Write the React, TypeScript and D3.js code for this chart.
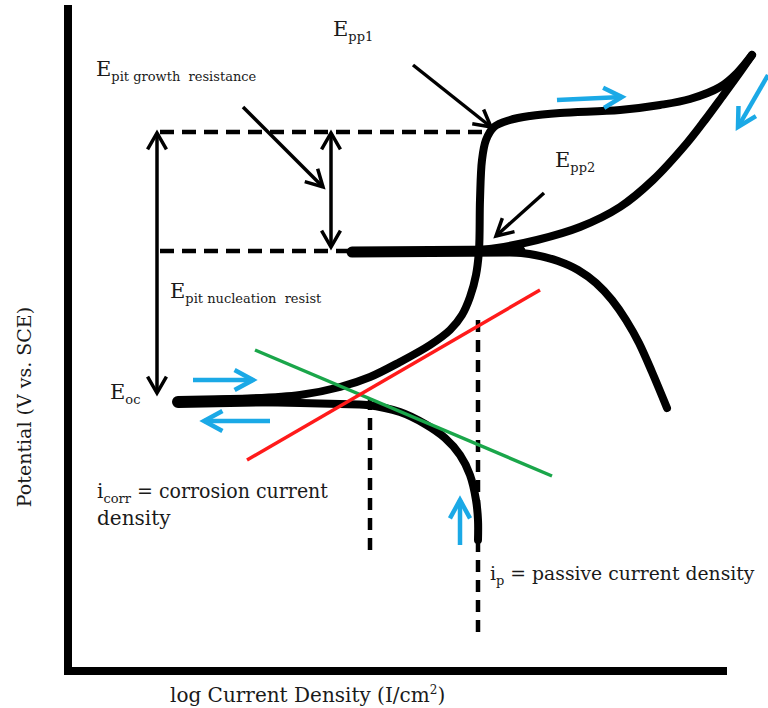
import React from "react";
import * as d3 from "d3";

const W = 768;
const H = 708;

// Domains: log current density (decades) and potential (V vs SCE)
const logIDomain: [number, number] = [-9, -2.41];
const potentialDomain: [number, number] = [-0.8, 0.534];

// Forward anodic scan (Eoc -> passive -> pitting -> vertex)
const anodicForward: [number, number][] = [
  [-7.9, -0.26], [-7.28, -0.256], [-6.68, -0.248], [-6.28, -0.232], [-5.98, -0.212],
  [-5.68, -0.182], [-5.38, -0.148], [-5.18, -0.118], [-5.06, -0.088], [-4.98, -0.052],
  [-4.92, -0.008], [-4.89, 0.042], [-4.88, 0.142], [-4.86, 0.222], [-4.82, 0.262],
  [-4.74, 0.288], [-4.58, 0.302], [-4.38, 0.31], [-4.08, 0.316], [-3.48, 0.322],
  [-3.08, 0.332], [-2.78, 0.344], [-2.48, 0.368], [-2.31, 0.396], [-2.16, 0.432],
];

// Reverse scan (vertex -> repassivation)
const reverseScan: [number, number][] = [
  [-2.16, 0.432], [-2.3, 0.392], [-2.46, 0.348], [-2.63, 0.302], [-2.81, 0.256],
  [-3.15, 0.182], [-3.48, 0.128], [-3.88, 0.088], [-4.31, 0.062], [-4.71, 0.046],
  [-4.98, 0.04],
];

// Protection potential plateau
const protectionPlateau: [number, number][] = [[-6.16, 0.038], [-4.48, 0.04]];

// Descending branch after repassivation
const descendingBranch: [number, number][] = [
  [-4.88, 0.04], [-4.58, 0.038], [-4.33, 0.032], [-4.1, 0.02], [-3.9, 0.002],
  [-3.72, -0.024], [-3.56, -0.058], [-3.42, -0.098], [-3.29, -0.144], [-3.16, -0.202],
  [-3.01, -0.274],
];

// Cathodic branch
const cathodicBranch: [number, number][] = [
  [-7.9, -0.26], [-7.18, -0.262], [-6.68, -0.264], [-6.28, -0.266], [-6.01, -0.268],
  [-5.68, -0.282], [-5.43, -0.306], [-5.23, -0.334], [-5.08, -0.368], [-4.98, -0.408],
  [-4.92, -0.458], [-4.9, -0.498], [-4.9, -0.538],
];

// Tafel extrapolation lines
const cathodicTafel: [number, number][] = [[-7.13, -0.158], [-4.16, -0.41]];
const anodicTafel: [number, number][] = [[-7.21, -0.378], [-4.28, -0.038]];

// Reference levels
const E_pp1 = 0.278;
const E_pp2 = 0.04;
const logI_corr = -5.98;
const logI_p = -4.9;

// Dashed guide lines [x1, y1, x2, y2]
const dashedGuides: [number, number, number, number][] = [
  [-8.08, E_pp1, -4.81, E_pp1],
  [-8.08, E_pp2, -6.16, E_pp2],
  [logI_corr, -0.254, logI_corr, -0.564],
  [logI_p, -0.098, logI_p, -0.728],
];

// Double-headed range arrows [x, yTop, yBottom]
const rangeArrows: [number, number, number][] = [
  [-8.11, 0.276, -0.244],
  [-6.37, 0.276, 0.048],
];

// Black pointer arrows [fromX, fromY, toX, toY]
const pointerArrows: [number, number, number, number][] = [
  [-7.25, 0.328, -6.45, 0.168],
  [-5.55, 0.412, -4.77, 0.288],
  [-4.24, 0.156, -4.72, 0.07],
];

// Blue scan-direction arrows [fromX, fromY, toX, toY]
const scanArrows: [number, number, number, number][] = [
  [-4.11, 0.342, -3.46, 0.348],
  [-2.0, 0.392, -2.3, 0.288],
  [-7.75, -0.218, -7.15, -0.218],
  [-6.98, -0.3, -7.64, -0.3],
  [-5.08, -0.548, -5.08, -0.458],
];

// Labels: main, subscript, rest, position (logI, E)
const labels: { main: string; sub: string; rest?: string; restLen?: number; size?: number; at: [number, number] }[] = [
  { main: "E", sub: "pp1", at: [-6.35, 0.47] },
  { main: "E", sub: "pit growth  resistance", at: [-8.72, 0.39] },
  { main: "E", sub: "pp2", at: [-4.13, 0.208] },
  { main: "E", sub: "pit nucleation  resist", at: [-7.98, -0.054] },
  { main: "E", sub: "oc", at: [-8.58, -0.256] },
  { main: "i", sub: "corr", rest: " = corrosion current", restLen: 197, size: 20, at: [-8.71, -0.454] },
  { main: "i", sub: "p", rest: " = passive current density", restLen: 250, size: 19, at: [-4.78, -0.618] },
];
const extraText: { text: string; at: [number, number] }[] = [
  { text: "density", at: [-8.71, -0.508] },
];

const xTitle = "log Current Density (I/cm";
const yTitle = "Potential (V vs. SCE)";

const FONT = "'DejaVu Serif', 'Liberation Serif', serif";
const BLUE = "#1ba9e6";
const GREEN = "#1aa64a";
const RED = "#ff1a1a";

function headPath(fx: number, fy: number, tx: number, ty: number, len: number, ang: number) {
  const a = Math.atan2(ty - fy, tx - fx);
  const p1 = [tx - len * Math.cos(a - ang), ty - len * Math.sin(a - ang)];
  const p2 = [tx - len * Math.cos(a + ang), ty - len * Math.sin(a + ang)];
  return `M${p1[0]},${p1[1]}L${tx},${ty}L${p2[0]},${p2[1]}`;
}

export default function App() {
  const x = d3.scaleLinear().domain(logIDomain).range([68, 727]);
  const y = d3.scaleLinear().domain(potentialDomain).range([671, 4]);
  const line = d3
    .line<[number, number]>()
    .x((d) => x(d[0]))
    .y((d) => y(d[1]))
    .curve(d3.curveCatmullRom.alpha(0.5));
  const smoothX = d3
    .line<[number, number]>()
    .x((d) => x(d[0]))
    .y((d) => y(d[1]))
    .curve(d3.curveMonotoneX);
  const straight = d3
    .line<[number, number]>()
    .x((d) => x(d[0]))
    .y((d) => y(d[1]));

  const [x0, x1] = x.range();
  const [yb, yt] = y.range();

  return (
    <svg
      width={W}
      height={H}
      style={{ position: "absolute", left: 0, top: 0, background: "#fff" }}
      fontFamily={FONT}
    >
      <rect width={W} height={H} fill="#fff" />
      {/* axes */}
      <line x1={x0} y1={yt + 1} x2={x0} y2={yb + 4} stroke="#000" strokeWidth={8} />
      <line x1={x0 - 4} y1={yb} x2={x1} y2={yb} stroke="#000" strokeWidth={8} />

      {/* dashed guides */}
      {dashedGuides.map((g, i) => (
        <line
          key={"d" + i}
          x1={x(g[0])}
          y1={y(g[1])}
          x2={x(g[2])}
          y2={y(g[3])}
          stroke="#000"
          strokeWidth={4.5}
          strokeDasharray={g[0] === g[2] ? "12 8" : "14 8"}
        />
      ))}

      {/* curves */}
      <path d={line(cathodicBranch) || ""} fill="none" stroke="#000" strokeWidth={8} strokeLinecap="round" />
      <path d={line(anodicForward) || ""} fill="none" stroke="#000" strokeWidth={8} strokeLinecap="round" strokeLinejoin="round" />
      <path d={line(reverseScan) || ""} fill="none" stroke="#000" strokeWidth={8} strokeLinecap="round" />
      <path d={smoothX(descendingBranch) || ""} fill="none" stroke="#000" strokeWidth={8} strokeLinecap="round" />
      <path d={straight(protectionPlateau) || ""} fill="none" stroke="#000" strokeWidth={11} strokeLinecap="round" />
      <path d={straight([[-7.9, -0.262], [-6.9, -0.258]]) || ""} fill="none" stroke="#000" strokeWidth={12} strokeLinecap="round" />

      {/* Tafel lines */}
      <path d={straight(cathodicTafel) || ""} stroke={GREEN} strokeWidth={3.5} fill="none" />
      <path d={straight(anodicTafel) || ""} stroke={RED} strokeWidth={3.5} fill="none" />

      {/* range arrows */}
      {rangeArrows.map((r, i) => {
        const xx = x(r[0]);
        const ya = y(r[1]);
        const yb2 = y(r[2]);
        return (
          <g key={"r" + i} stroke="#000" strokeWidth={3.5} fill="none">
            <line x1={xx} y1={ya} x2={xx} y2={yb2} />
            <path d={headPath(xx, yb2, xx, ya, 19, 0.52)} />
            <path d={headPath(xx, ya, xx, yb2, 19, 0.52)} />
          </g>
        );
      })}

      {/* pointer arrows */}
      {pointerArrows.map((p, i) => {
        const fx = x(p[0]), fy = y(p[1]), tx = x(p[2]), ty = y(p[3]);
        return (
          <g key={"p" + i} stroke="#000" strokeWidth={3.5} fill="none">
            <line x1={fx} y1={fy} x2={tx} y2={ty} />
            <path d={headPath(fx, fy, tx, ty, 19, 0.5)} />
          </g>
        );
      })}

      {/* scan direction arrows */}
      {scanArrows.map((p, i) => {
        const fx = x(p[0]), fy = y(p[1]), tx = x(p[2]), ty = y(p[3]);
        return (
          <g key={"s" + i} stroke={BLUE} strokeWidth={4.5} fill="none">
            <line x1={fx} y1={fy} x2={tx} y2={ty} />
            <path d={headPath(fx, fy, tx, ty, 21, 0.5)} />
          </g>
        );
      })}

      {/* labels */}
      {labels.map((l, i) => (
        <text key={"l" + i} x={x(l.at[0])} y={y(l.at[1])} fill="#1a1a1a" fontSize={l.main === "E" ? 21 : l.size || 20} style={{ whiteSpace: "pre" }}>
          {l.main}
          <tspan fontSize={13} dy={5}>{l.sub}</tspan>
          {l.rest ? (
            <tspan dy={-5} fontSize={l.size || 20} textLength={l.restLen} lengthAdjust="spacingAndGlyphs">
              {l.rest}
            </tspan>
          ) : null}
        </text>
      ))}
      {extraText.map((t, i) => (
        <text key={"t" + i} x={x(t.at[0])} y={y(t.at[1])} fill="#1a1a1a" fontSize={20}>
          {t.text}
        </text>
      ))}

      {/* axis titles */}
      <text x={170} y={702} fill="#1a1a1a" fontSize={20}>
        {xTitle}
        <tspan fontSize={12} dy={-8}>2</tspan>
        <tspan dy={8}>)</tspan>
      </text>
      <text
        transform={`translate(31, 407) rotate(-90)`}
        textAnchor="middle"
        fill="#1a1a1a"
        fontSize={19}
      >
        {yTitle}
      </text>
    </svg>
  );
}
